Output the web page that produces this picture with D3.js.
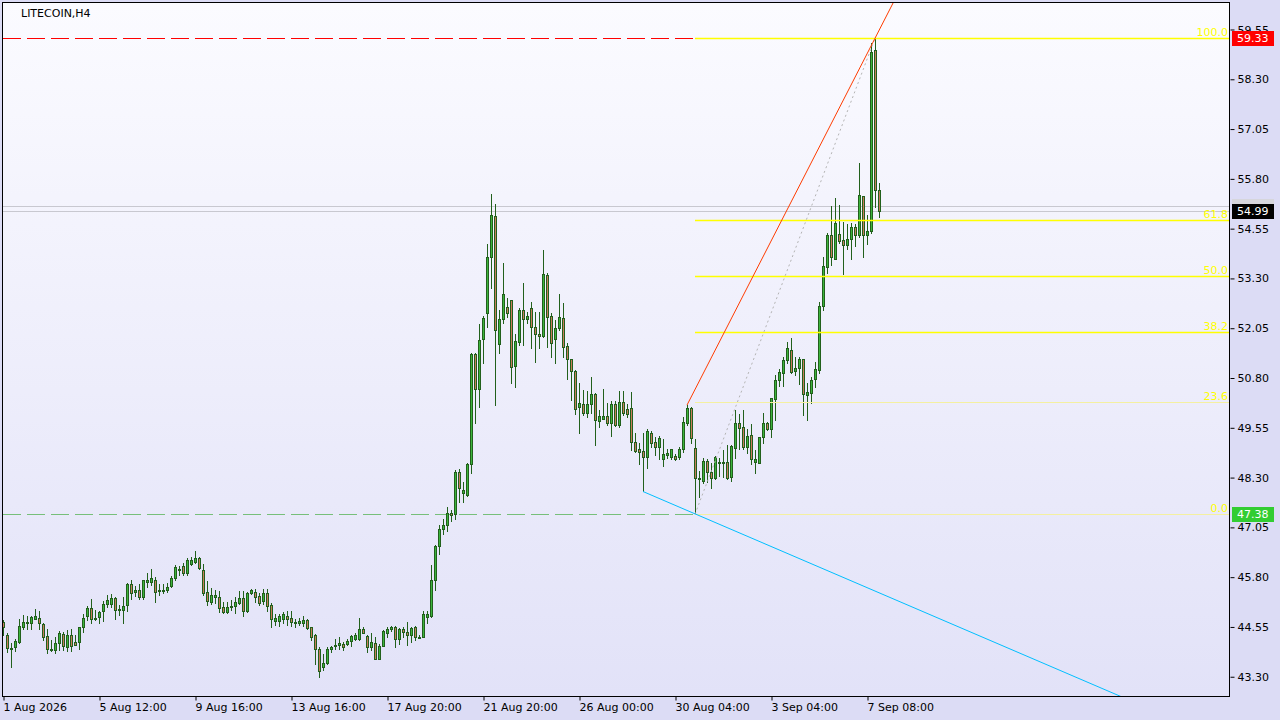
<!DOCTYPE html>
<html><head><meta charset="utf-8">
<script src="https://cdn.jsdelivr.net/npm/d3@7/dist/d3.min.js"></script>
<style>
html,body{margin:0;padding:0;background:#dcdcf5;}
svg{display:block;font-family:"DejaVu Sans",Verdana,sans-serif;}
</style></head>
<body>
<svg id="c" width="1280" height="720"></svg>
<script>
const title = "LITECOIN,H4";
const opens = [44.68,44.34,44.03,44.05,44.18,44.56,44.64,44.64,44.76,44.77,44.62,44.32,44.00,43.97,44.15,44.37,44.05,44.34,44.17,44.18,
44.54,44.82,45.02,44.77,44.79,44.96,45.12,45.13,45.27,45.00,44.97,45.09,45.64,45.44,45.49,45.31,45.69,45.69,45.74,45.46,
45.48,45.49,45.58,45.77,45.98,46.08,45.91,46.13,46.18,46.28,45.98,45.42,45.18,45.31,45.30,45.04,44.93,45.04,45.07,45.16,
45.27,44.96,45.41,45.44,45.33,45.20,45.39,45.09,44.71,44.71,44.76,44.82,44.77,44.68,44.64,44.64,44.72,44.54,44.34,43.99,
43.55,43.65,43.99,44.07,44.09,44.12,44.12,44.20,44.26,44.26,44.51,44.33,44.04,44.15,43.75,44.08,44.41,44.49,44.54,44.24,
44.49,44.43,44.34,44.54,44.28,44.29,44.81,44.82,45.74,46.58,47.00,47.12,47.40,47.39,48.44,47.92,47.86,48.64,51.40,50.52,
51.78,52.43,53.84,54.87,51.65,52.28,52.58,52.76,51.10,51.70,52.51,52.28,52.56,52.08,51.90,51.85,53.39,52.36,51.78,52.05,
52.31,51.60,51.28,50.98,50.07,50.15,49.92,50.15,50.40,49.72,49.77,49.85,49.67,50.15,49.62,50.20,50.02,50.05,49.19,49.02,
48.97,48.82,49.42,49.19,49.07,48.77,48.87,48.82,48.84,48.82,49.02,49.67,50.05,49.04,48.29,48.21,48.72,48.44,48.29,48.67,
48.69,48.69,48.31,49.04,49.67,49.57,49.07,49.37,48.69,48.67,49.32,49.67,49.52,50.27,50.75,50.92,51.25,51.50,50.97,51.05,
51.28,50.37,50.42,50.77,51.00,52.60,53.59,54.39,53.79,54.42,54.26,54.14,54.29,54.59,54.39,55.37,54.39,54.49,59.03,55.52];
const highs = [44.72,44.39,44.14,44.24,44.74,44.84,44.82,44.82,44.99,44.96,44.64,44.49,44.22,44.29,44.46,44.42,44.47,44.51,44.34,44.56,
44.87,45.08,45.24,44.97,44.96,45.19,45.34,45.38,45.31,45.09,45.29,45.66,45.74,45.59,45.64,45.74,45.90,46.00,45.80,45.63,
45.63,45.66,45.83,46.10,46.08,46.15,46.27,46.31,46.45,46.31,46.13,45.70,45.52,45.48,45.46,45.18,45.18,45.23,45.29,45.46,
45.46,45.43,45.51,45.51,45.39,45.51,45.51,45.14,44.87,44.87,44.92,44.96,44.94,44.76,44.77,44.82,44.74,44.56,44.37,44.04,
43.87,44.05,44.07,44.24,44.29,44.17,44.26,44.36,44.39,44.77,44.54,44.36,44.39,44.29,44.12,44.47,44.54,44.57,44.57,44.52,
44.54,44.67,44.54,44.57,44.34,44.94,44.96,46.10,46.62,47.10,47.25,47.55,47.48,48.49,48.52,48.19,48.67,51.43,51.43,52.16,
52.36,54.16,55.42,55.17,52.52,53.68,52.81,52.76,51.90,52.56,53.18,52.46,52.71,52.46,52.46,54.01,53.44,52.43,52.26,52.91,
52.68,51.68,51.28,51.00,50.67,50.50,50.47,50.83,50.42,49.99,50.52,50.17,50.22,50.22,50.47,50.47,50.15,50.45,49.42,49.17,
49.42,49.52,49.47,49.32,49.34,49.27,49.02,49.02,48.89,49.07,49.82,50.12,50.07,49.27,48.46,48.79,48.77,48.67,48.84,48.79,
48.99,49.12,49.12,49.99,49.90,49.99,49.52,49.64,48.99,49.32,49.92,49.69,50.30,50.87,51.03,51.33,51.70,51.80,51.33,51.33,
51.28,50.67,50.83,51.20,52.70,53.84,54.44,55.12,55.32,55.14,54.72,54.67,54.69,54.67,56.20,55.37,54.89,59.21,59.33,55.69];
const lows = [44.35,43.93,43.55,43.95,44.15,44.49,44.51,44.51,44.74,44.49,44.22,43.90,43.95,43.90,43.97,43.97,43.94,43.95,44.09,44.00,
44.42,44.72,44.64,44.72,44.64,44.71,45.04,45.06,44.76,44.86,44.66,44.96,45.26,45.33,45.24,45.26,45.56,45.60,45.18,45.35,
45.39,45.43,45.56,45.73,45.85,45.85,45.85,46.10,46.15,46.01,45.35,45.11,45.13,45.14,44.93,44.91,44.91,44.97,44.91,45.13,
44.82,44.93,45.38,45.18,45.09,45.13,44.96,44.56,44.59,44.57,44.66,44.61,44.57,44.56,44.61,44.57,44.51,44.22,43.62,43.30,
43.47,43.62,43.93,44.00,44.00,43.97,44.10,44.07,44.22,44.22,44.39,43.93,43.97,43.74,43.74,44.07,44.29,44.46,44.04,44.12,
44.31,44.09,44.17,44.21,44.27,44.29,44.66,44.79,45.49,46.38,46.88,46.95,47.22,47.26,47.69,47.69,47.84,48.41,49.67,50.07,
51.17,52.08,53.06,50.12,51.42,52.17,52.33,50.67,50.57,51.63,51.63,52.18,51.55,51.20,51.55,51.83,51.58,51.33,51.18,52.00,
51.33,50.77,50.25,49.90,49.42,49.87,49.82,49.92,49.12,49.57,49.77,49.62,49.34,49.59,49.57,49.87,49.82,48.99,48.94,48.64,
47.96,48.54,49.07,48.87,48.77,48.59,48.79,48.77,48.74,48.77,48.94,49.62,49.17,47.38,47.81,48.17,48.19,48.04,48.26,48.34,
48.31,48.26,48.21,48.79,49.02,49.02,48.92,48.64,48.41,48.67,49.17,49.49,49.32,49.75,50.60,50.60,51.18,50.92,50.87,50.65,
49.87,49.75,50.17,50.57,50.93,52.50,53.44,53.64,53.79,54.19,53.41,54.04,53.79,54.11,54.34,53.84,54.16,54.44,55.09,54.84];
const closes = [44.54,44.01,43.99,44.20,44.57,44.67,44.68,44.79,44.82,44.64,44.31,43.99,43.97,44.14,44.39,44.07,44.34,44.07,44.10,44.54,
44.77,45.02,44.76,44.75,44.92,45.13,45.23,45.27,44.97,44.98,45.08,45.64,45.41,45.48,45.31,45.74,45.74,45.77,45.44,45.49,
45.46,45.56,45.77,46.05,46.00,45.91,46.23,46.23,46.28,46.03,45.41,45.21,45.35,45.35,45.03,44.93,45.04,45.07,45.18,45.27,
44.96,45.41,45.49,45.29,45.16,45.41,45.08,44.74,44.77,44.82,44.87,44.76,44.67,44.66,44.71,44.72,44.52,44.29,43.99,43.44,
43.64,43.99,44.05,44.09,44.14,44.05,44.19,44.33,44.35,44.51,44.41,44.04,44.16,43.75,44.08,44.45,44.49,44.54,44.24,44.49,
44.43,44.35,44.52,44.29,44.31,44.87,44.87,45.74,46.58,47.00,47.12,47.40,47.36,48.44,48.04,48.00,48.64,51.40,50.52,51.75,
52.31,53.84,54.89,52.00,52.28,52.91,52.43,51.08,51.73,52.51,52.28,52.36,52.08,51.90,51.85,53.41,52.33,51.68,52.05,52.33,
51.58,51.28,50.98,50.02,50.17,49.92,50.15,50.40,49.75,49.85,49.85,49.67,50.15,49.62,50.20,49.92,49.90,49.19,48.97,48.94,
48.82,49.47,49.17,49.07,49.29,48.89,48.92,49.02,48.77,49.02,49.70,50.05,49.29,48.29,48.27,48.72,48.44,48.29,48.82,48.69,
48.67,48.29,49.09,49.67,49.54,49.07,49.34,48.77,48.77,49.32,49.67,49.52,50.30,50.75,50.95,51.25,51.55,50.95,51.05,51.28,
50.40,50.45,50.75,51.03,52.60,53.61,54.39,53.84,54.69,54.24,54.14,54.29,54.59,54.39,55.39,54.39,54.49,58.98,55.52,54.99];

const dateLabels = ["1 Aug 2026","5 Aug 12:00","9 Aug 16:00","13 Aug 16:00","17 Aug 20:00","21 Aug 20:00","26 Aug 00:00","30 Aug 04:00","3 Sep 04:00","7 Sep 08:00"];
const dateLabelBars = [0,24,48,72,96,120,144,168,192,216];
const priceTicks = [59.55,58.30,57.05,55.80,54.55,53.30,52.05,50.80,49.55,48.30,47.05,45.80,44.55,43.30];
const fibLevels = [0,23.6,38.2,50,61.8,100];
const fibLowBar = 173, fibLow = 47.38, fibHighBar = 218, fibHigh = 59.33;
const redLineBars = [171,218], redLinePrices = [50.12,59.33];
const blueLineBars = [160,173], blueLinePrices = [47.95,47.39];
const bid = 54.99, ask = 55.12;

const svg = d3.select("#c");
const L = 2, R = 1230, T = 2, B = 696;
const x = d3.scaleLinear().domain([0,1]).range([3,7]);
const y = d3.scaleLinear().domain([42.8164,60.2404]).range([B,T]);

const defs = svg.append("defs");
const grad = defs.append("linearGradient").attr("id","bg").attr("x1",0).attr("y1",0).attr("x2",0).attr("y2",1);
grad.append("stop").attr("offset","0%").attr("stop-color","#fbfbff");
grad.append("stop").attr("offset","100%").attr("stop-color","#e2e2f8");
defs.append("clipPath").attr("id","clip").append("rect").attr("x",L).attr("y",T).attr("width",R-L).attr("height",B-T);

svg.append("rect").attr("x",0).attr("y",0).attr("width",1280).attr("height",720).attr("fill","#dcdcf5");
svg.append("rect").attr("x",L).attr("y",T).attr("width",R-L).attr("height",B-T).attr("fill","url(#bg)");

const plot = svg.append("g").attr("clip-path","url(#clip)");

// bid / ask lines
[ask,bid].forEach(p=>{
  const yy = Math.round(y(p))+0.5;
  plot.append("line").attr("x1",L).attr("x2",R).attr("y1",yy).attr("y2",yy).attr("stroke","#c8c8d0").attr("stroke-width",1);
});

// horizontal dashed price lines
const yHi = Math.round(y(fibHigh))+0.5, yLo = Math.round(y(fibLow))+0.5;
plot.append("line").attr("x1",3).attr("x2",R).attr("y1",yHi).attr("y2",yHi).attr("stroke","#ff0000").attr("stroke-dasharray","18,6");
plot.append("line").attr("x1",3).attr("x2",R).attr("y1",yLo).attr("y2",yLo).attr("stroke","#5ab45a").attr("stroke-dasharray","18,6").attr("stroke-opacity",0.8);

// candles
const dark = "#22601c", bullC = "#3cb43c", bearC = "#c87c5a";
const cg = plot.append("g").attr("shape-rendering","crispEdges");
opens.forEach((o,i)=>{
  const c = closes[i], cx = Math.round(x(i));
  const yh = Math.round(y(highs[i])), yl = Math.round(y(lows[i]));
  cg.append("rect").attr("x",cx).attr("y",yh).attr("width",1).attr("height",Math.max(1,yl-yh+1)).attr("fill",dark);
  let top = Math.round(y(Math.max(o,c))), bot = Math.round(y(Math.min(o,c)));
  if (bot-top<1) bot = top+1;
  cg.append("rect").attr("x",cx-1).attr("y",top).attr("width",3).attr("height",bot-top+1).attr("fill",dark);
  if (bot-top>=2) cg.append("rect").attr("x",cx).attr("y",top+1).attr("width",1).attr("height",bot-top-1).attr("fill",c>=o?bullC:bearC);
});

// fibonacci
const fx0 = x(fibLowBar);
fibLevels.forEach(l=>{
  const p = fibLow + (fibHigh-fibLow)*l/100;
  const yy = Math.round(y(p))+0.5;
  const thin = (l===0||l===23.6);
  plot.append("line").attr("x1",fx0).attr("x2",R).attr("y1",yy).attr("y2",yy)
    .attr("stroke",thin?"#f4f0a0":"#ffff00").attr("stroke-width",thin?1:1.6);
  plot.append("text").attr("x",1228).attr("y",yy-3).attr("text-anchor","end")
    .attr("font-size",11).attr("fill","#ffff00").text(l.toFixed(1));
});
plot.append("line").attr("x1",x(fibLowBar)).attr("y1",y(fibLow)).attr("x2",x(fibHighBar)).attr("y2",y(fibHigh))
  .attr("stroke","#b4b4b4").attr("stroke-dasharray","2,3");

// trend rays
function ray(bars, prices, color){
  const x1=x(bars[0]), y1=y(prices[0]), x2=x(bars[1]), y2=y(prices[1]);
  const k = (y2-y1)/(x2-x1);
  const xe = 1400, ye = y1 + k*(xe-x1);
  plot.append("line").attr("x1",x1).attr("y1",y1).attr("x2",xe).attr("y2",ye).attr("stroke",color).attr("stroke-width",1);
}
ray(redLineBars, redLinePrices, "#ff3c00");
ray(blueLineBars, blueLinePrices, "#00bfff");

// frame
svg.append("rect").attr("x",L+0.5).attr("y",T+0.5).attr("width",R-L-1).attr("height",B-T).attr("fill","none").attr("stroke","#000");

// axes
const yAxis = d3.axisRight(y).tickValues(priceTicks).tickFormat(d3.format(".2f")).tickSize(4).tickSizeOuter(0).tickPadding(3);
const ya = svg.append("g").attr("transform",`translate(${R+0.5},0)`).call(yAxis);
ya.select(".domain").remove();
ya.selectAll("text").attr("font-size",11).attr("font-family","DejaVu Sans").attr("fill","#000");
ya.selectAll("line").attr("stroke","#000");

const xAxis = d3.axisBottom(x).tickValues(dateLabelBars).tickFormat((d,i)=>dateLabels[i]).tickSize(4).tickSizeOuter(0).tickPadding(3);
const xa = svg.append("g").attr("transform",`translate(0.5,${B+0.5})`).call(xAxis);
xa.select(".domain").remove();
xa.selectAll("text").attr("font-size",11).attr("font-family","DejaVu Sans").attr("fill","#000").attr("text-anchor","start").attr("x",-0.5);
xa.selectAll("line").attr("stroke","#000");

// price labels
function priceBox(p, bg, fg){
  const yy = Math.round(y(p));
  svg.append("rect").attr("x",1232).attr("y",yy-7).attr("width",42).attr("height",15).attr("fill",bg);
  svg.append("text").attr("x",1237).attr("y",yy+4).attr("font-size",11).attr("fill",fg).text(p.toFixed(2));
}
priceBox(ask, "#d6d6dc", "#d6d6dc");
priceBox(bid, "#000000", "#ffffff");
priceBox(fibHigh, "#ff0000", "#ffffff");
priceBox(fibLow, "#32cd32", "#ffffff");

// title
svg.append("text").attr("x",21).attr("y",17).attr("font-size",11).attr("fill","#000").text(title);
</script>
</body></html>
